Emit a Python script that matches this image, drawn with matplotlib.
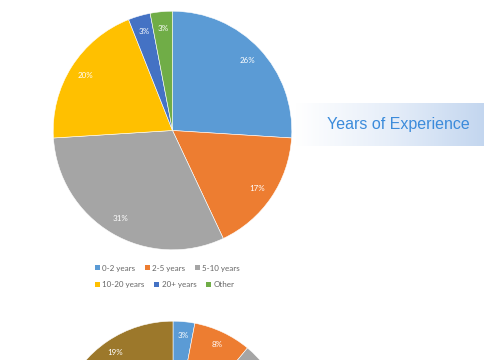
import matplotlib
matplotlib.use("Agg")
import matplotlib.pyplot as plt
import numpy as np
from matplotlib.colors import LinearSegmentedColormap
from matplotlib.patches import Patch

# Data
categories = ["0-2 years", "2-5 years", "5-10 years", "10-20 years", "20+ years", "Other"]
values = [26, 17, 31, 20, 3, 3]
colors = ["#5B9BD5", "#ED7D31", "#A5A5A5", "#FFC000", "#4472C4", "#70AD47"]

# second (partially visible) pie
values2 = [3, 8, 14, 12, 10, 9, 8, 9, 8, 19]
colors2 = ["#5B9BD5", "#ED7D31", "#A5A5A5", "#FFC000", "#4472C4", "#70AD47",
           "#264478", "#9E480E", "#636363", "#9C782B"]

title = "Years of Experience"

W, H = 485, 360
fig = plt.figure(figsize=(W / 100, H / 100), dpi=100)
fig.patch.set_facecolor("white")

def px_axes(x0, y0, w, h):
    return fig.add_axes([x0 / W, 1 - (y0 + h) / H, w / W, h / H])

def pct_fmt(p):
    return f"{p:.0f}%"

# main pie
cx, cy, r = 172.5, 130.5, 120.5
ax = px_axes(cx - r, cy - r, 2 * r, 2 * r)
ax.pie(values, colors=colors, startangle=90, counterclock=False,
       autopct=pct_fmt, pctdistance=0.86, radius=1,
       wedgeprops=dict(linewidth=0.4, edgecolor="white"),
       textprops=dict(color="white", fontsize=5.8, family="Lato"))
ax.set_xlim(-1.01, 1.01)
ax.set_ylim(-1.01, 1.01)
ax.set_aspect("equal")
ax.axis("off")

# legends (two rows, Excel-style)
lax = px_axes(0, 0, W, H)
lax.axis("off")
row1 = [Patch(facecolor=c) for c in colors[:3]]
row2 = [Patch(facecolor=c) for c in colors[3:]]
leg_kw = dict(frameon=False, handlelength=0.6, handleheight=0.6, handletextpad=0.3,
              columnspacing=1.2, borderaxespad=0, borderpad=0,
              prop=dict(family="Lato", size=5.8), labelcolor="#666666")
l1 = lax.legend(row1, categories[:3], ncol=3, loc="center left",
                bbox_to_anchor=(95 / W, 1 - 268 / H), **leg_kw)
lax.add_artist(l1)
l2 = lax.legend(row2, categories[3:], ncol=3, loc="center left",
                bbox_to_anchor=(95 / W, 1 - 284.5 / H), **leg_kw)

# bottom pie (cut off by the figure edge)
cx2, cy2, r2 = 173, 438, 118
ax2 = px_axes(cx2 - r2, cy2 - r2, 2 * r2, 2 * r2)
_, _, autotexts2 = ax2.pie(values2, colors=colors2, startangle=90, counterclock=False,
                           autopct=pct_fmt, pctdistance=0.885, radius=1,
                           wedgeprops=dict(linewidth=0.4, edgecolor="white"),
                           textprops=dict(color="white", fontsize=5.8, family="Lato"))
ax2.set_xlim(-1.01, 1.01)
ax2.set_ylim(-1.01, 1.01)
ax2.set_aspect("equal")
ax2.axis("off")
# drop labels that fall outside the visible page
fig.canvas.draw()
for t in autotexts2:
    x, y = t.get_position()
    _, ydisp = ax2.transData.transform((x, y))
    if ydisp < 4:
        t.remove()

# title banner with gradient
bx = px_axes(296, 103, W - 296, 43)
grad = np.linspace(0, 1, 256).reshape(1, -1)
cmap = LinearSegmentedColormap.from_list("g", ["#FFFFFF", "#E6EEF9", "#C3D6EF"])
bx.imshow(grad, aspect="auto", cmap=cmap, extent=[0, 1, 0, 1])
bx.set_xlim(0, 1)
bx.set_ylim(0, 1)
bx.axis("off")
fig.text(398 / W, 1 - 124 / H, title, ha="center", va="center",
         fontsize=11.5, color="#3B8BDB", family="Liberation Sans")

fig.savefig("out.png", dpi=100)
